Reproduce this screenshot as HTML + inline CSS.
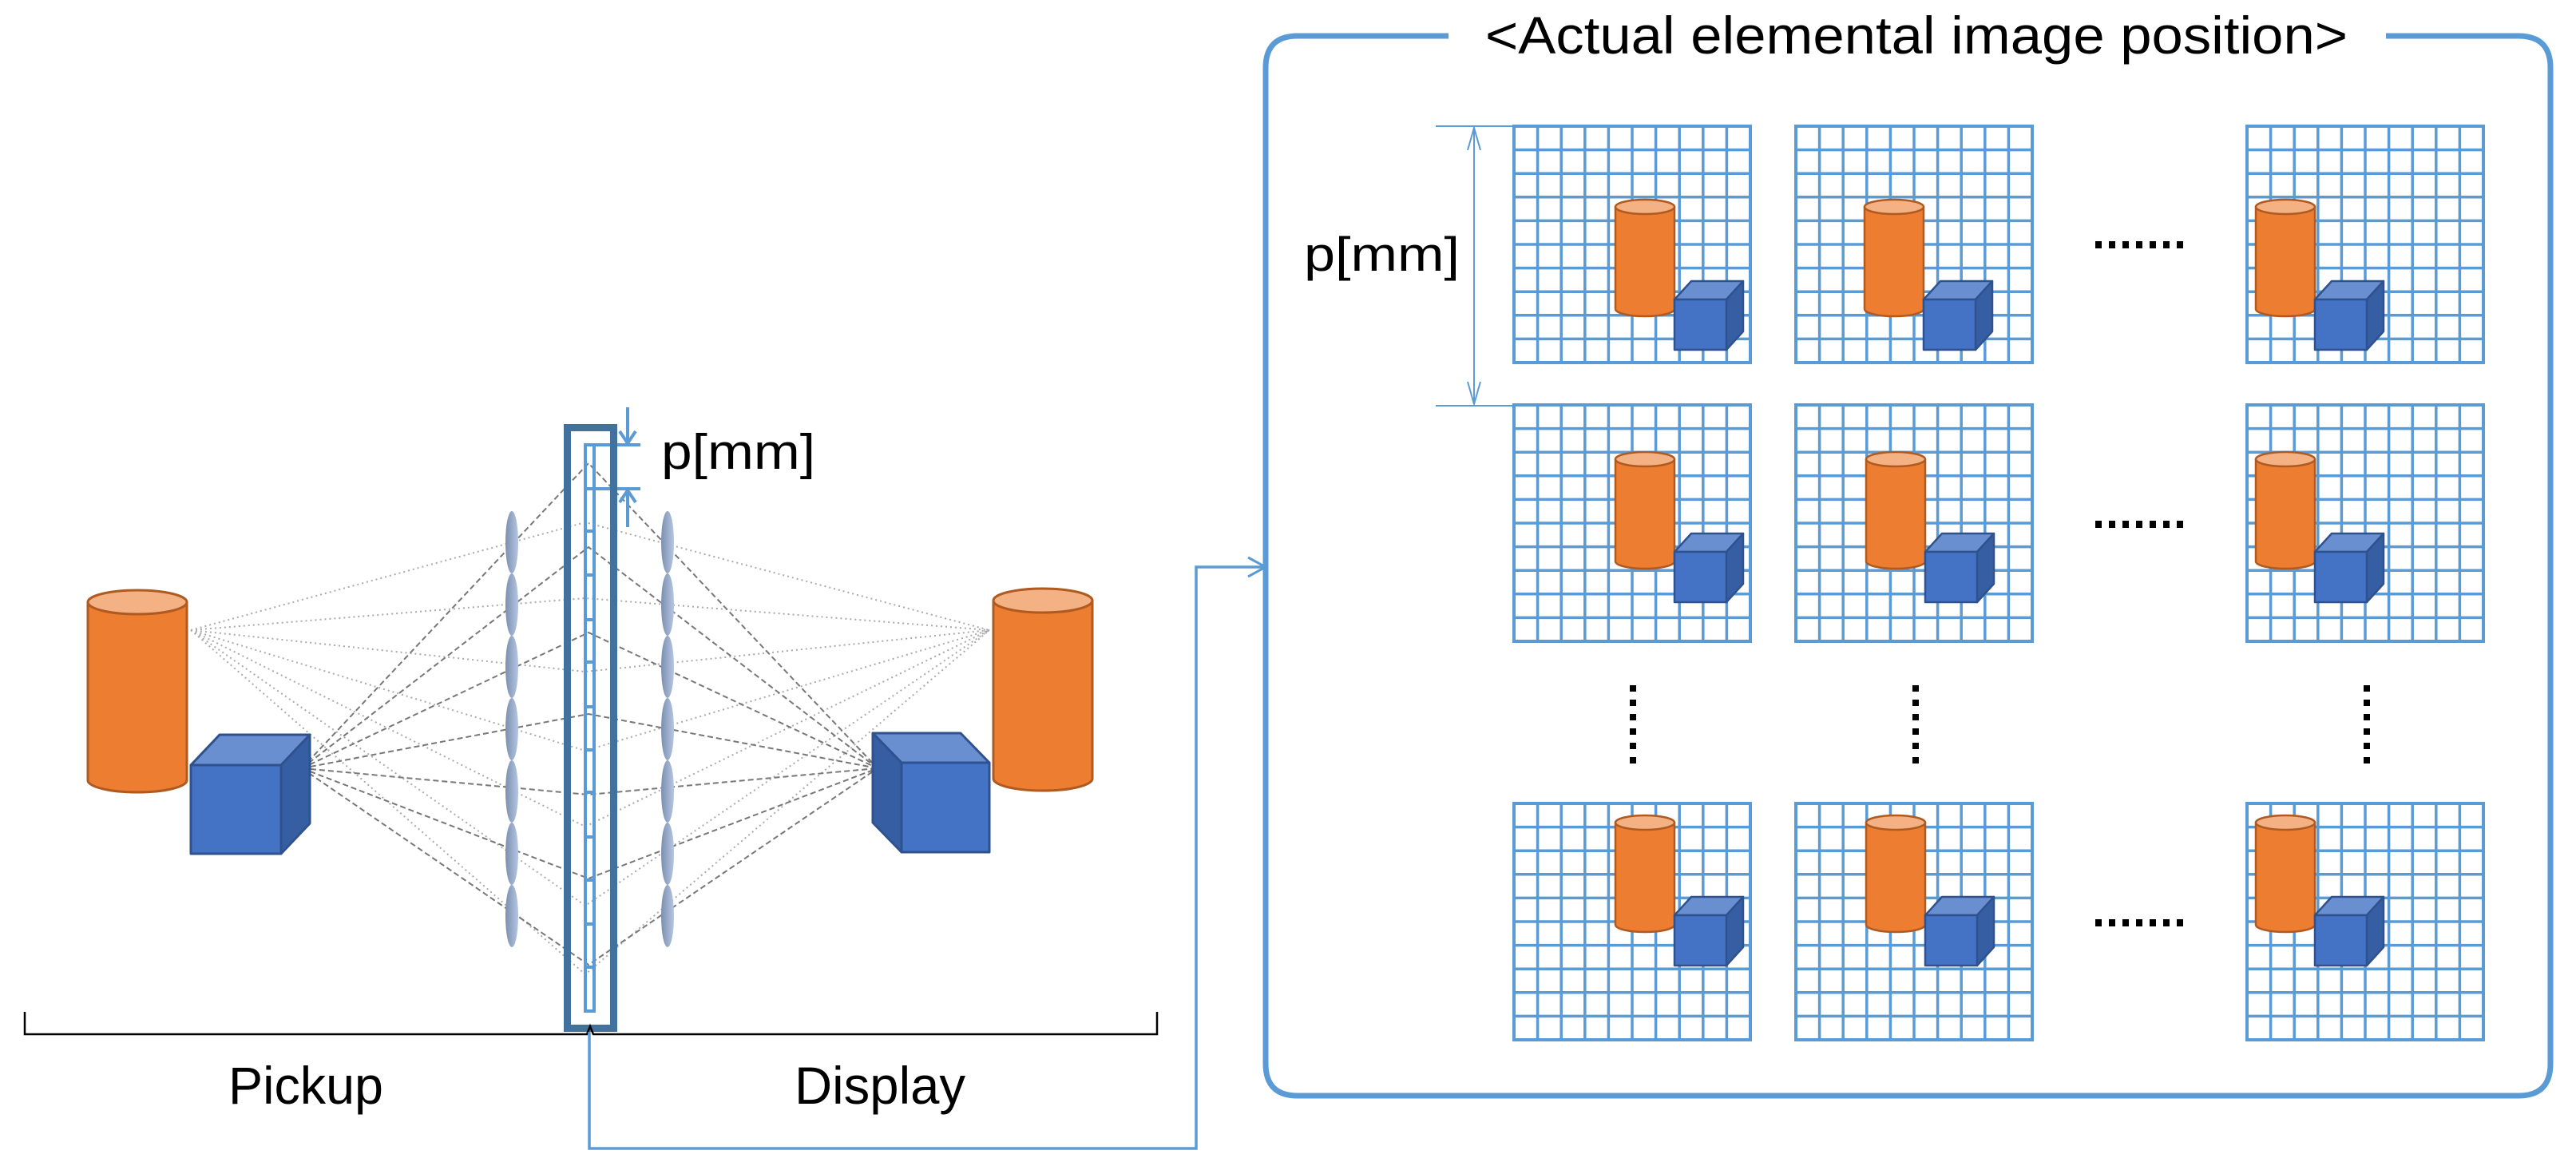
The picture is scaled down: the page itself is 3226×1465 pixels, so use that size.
<!DOCTYPE html>
<html><head><meta charset="utf-8"><style>html,body{margin:0;padding:0;background:#fff}svg{display:block}</style></head>
<body>
<svg width="3226" height="1465" viewBox="0 0 3226 1465" xmlns="http://www.w3.org/2000/svg">
<defs>
<linearGradient id="lens" x1="0" x2="1"><stop offset="0" stop-color="#7b8fae"/><stop offset="1" stop-color="#b5c6e3"/></linearGradient>
<g id="grid">
<rect x="0" y="0" width="296" height="296" fill="#fff" stroke="#5B9BD5" stroke-width="4"/>
<path d="M29.6 0V296M59.2 0V296M88.8 0V296M118.4 0V296M148 0V296M177.6 0V296M207.2 0V296M236.8 0V296M266.4 0V296M0 29.6H296M0 59.2H296M0 88.8H296M0 118.4H296M0 148H296M0 177.6H296M0 207.2H296M0 236.8H296M0 266.4H296" stroke="#5B9BD5" stroke-width="3.5" fill="none"/>
</g>
<g id="obj" stroke-width="2.5" stroke-linejoin="round">
<path d="M0 9V137A37 9 0 0 0 74 137V9Z" fill="#ED7D31" stroke="#AE5A21"/>
<ellipse cx="37" cy="9" rx="37" ry="9" fill="#F4B183" stroke="#AE5A21"/>
<polygon points="74,125 95,102 160,102 139,125" fill="#6A8FD0" stroke="#2F528F"/>
<polygon points="139,125 160,102 160,165 139,188" fill="#365EA2" stroke="#2F528F"/>
<rect x="74" y="125" width="65" height="63" fill="#4472C4" stroke="#2F528F"/>
</g>
</defs>

<!-- Right frame -->
<path d="M1814 45 H1625 Q1585 45 1585 85 V1332 Q1585 1372 1625 1372 H3154 Q3194 1372 3194 1332 V85 Q3194 45 3154 45 H2988" fill="none" stroke="#5B9BD5" stroke-width="7"/>
<text x="2400" y="67" font-family="Liberation Sans, sans-serif" font-size="66" text-anchor="middle" textLength="1080" lengthAdjust="spacingAndGlyphs">&lt;Actual elemental image position&gt;</text>

<!-- grids -->
<use href="#grid" x="1896" y="158"/><use href="#grid" x="2249" y="158"/><use href="#grid" x="2814" y="158"/>
<use href="#grid" x="1896" y="507"/><use href="#grid" x="2249" y="507"/><use href="#grid" x="2814" y="507"/>
<use href="#grid" x="1896" y="1006"/><use href="#grid" x="2249" y="1006"/><use href="#grid" x="2814" y="1006"/>
<use href="#obj" x="2023" y="250"/><use href="#obj" x="2335" y="250"/><use href="#obj" x="2825" y="250"/>
<use href="#obj" x="2023" y="566"/><use href="#obj" x="2337" y="566"/><use href="#obj" x="2825" y="566"/>
<use href="#obj" x="2023" y="1021"/><use href="#obj" x="2337" y="1021"/><use href="#obj" x="2825" y="1021"/>

<!-- dots -->
<g fill="#000">
<g id="hd"><rect x="2624" y="302" width="8" height="9"/><rect x="2641" y="302" width="8" height="9"/><rect x="2658" y="302" width="8" height="9"/><rect x="2675" y="302" width="8" height="9"/><rect x="2692" y="302" width="8" height="9"/><rect x="2709" y="302" width="8" height="9"/><rect x="2726" y="302" width="8" height="9"/></g>
<use href="#hd" y="350"/><use href="#hd" y="849"/>
<g id="vd"><rect x="2041" y="858" width="8" height="8"/><rect x="2041" y="876" width="8" height="8"/><rect x="2041" y="894" width="8" height="8"/><rect x="2041" y="912" width="8" height="8"/><rect x="2041" y="930" width="8" height="8"/><rect x="2041" y="948" width="8" height="8"/></g>
<use href="#vd" x="354"/><use href="#vd" x="919"/>
</g>

<!-- right p dimension -->
<g stroke="#5B9BD5" stroke-width="2" fill="none">
<path d="M1798 158H1896M1798 508H1896M1846 160V506M1838 188L1846 160L1854 188M1838 478L1846 506L1854 478"/>
</g>
<text x="1633" y="339" font-family="Liberation Sans, sans-serif" font-size="60" textLength="195" lengthAdjust="spacingAndGlyphs">p[mm]</text>

<!-- rays -->
<g fill="none" stroke-width="2">
<g stroke="#aaa" stroke-dasharray="2 4">
<path d="M239 789L733 654L1239 789M239 789L733 749L1239 789M239 789L733 841L1239 789M239 789L733 940L1239 789M239 789L733 1035L1239 789M239 789L733 1134L1239 789M239 789L733 1220L1239 789"/>
</g>
<g stroke="#777" stroke-dasharray="7 4">
<path d="M378 962L737 580L1099 962M378 962L737 685L1099 962M378 962L737 792L1099 962M378 962L737 894L1099 962M378 962L737 995L1099 962M378 962L737 1100L1099 962M378 962L737 1208L1099 962"/>
</g>
</g>

<!-- lenses -->
<g fill="url(#lens)">
<ellipse cx="641" cy="679" rx="8" ry="39"/><ellipse cx="641" cy="757" rx="8" ry="39"/><ellipse cx="641" cy="835" rx="8" ry="39"/><ellipse cx="641" cy="913" rx="8" ry="39"/><ellipse cx="641" cy="991" rx="8" ry="39"/><ellipse cx="641" cy="1069" rx="8" ry="39"/><ellipse cx="641" cy="1147" rx="8" ry="39"/>
<ellipse cx="836" cy="679" rx="8" ry="39"/><ellipse cx="836" cy="757" rx="8" ry="39"/><ellipse cx="836" cy="835" rx="8" ry="39"/><ellipse cx="836" cy="913" rx="8" ry="39"/><ellipse cx="836" cy="991" rx="8" ry="39"/><ellipse cx="836" cy="1069" rx="8" ry="39"/><ellipse cx="836" cy="1147" rx="8" ry="39"/>
</g>

<!-- central strip -->
<g fill="none" stroke="#5B9BD5" stroke-width="4">
<rect x="733" y="557" width="11" height="709"/>
<path d="M733 557H802M733 612H802M733 665H744M733 720H744M733 776H744M733 829H744M733 885H744M733 939H744M733 992H744M733 1048H744M733 1102H744M733 1157H744M733 1211H744"/>
<path d="M786 510V555M776 540L786 555L796 540M786 660V614M776 629L786 614L796 629"/>
</g>
<rect x="710.5" y="535.5" width="58" height="752" fill="none" stroke="#41719C" stroke-width="9"/>
<text x="828" y="587" font-family="Liberation Sans, sans-serif" font-size="62" textLength="193" lengthAdjust="spacingAndGlyphs">p[mm]</text>

<!-- left objects -->
<g stroke-width="3" stroke-linejoin="round">
<path d="M110 754V977A62 15 0 0 0 234 977V754Z" fill="#ED7D31" stroke="#AE5A21"/>
<ellipse cx="172" cy="754" rx="62" ry="15" fill="#F4B183" stroke="#AE5A21"/>
<polygon points="239,958 275,920 388,920 352,958" fill="#6A8FD0" stroke="#2F528F"/>
<polygon points="352,958 388,920 388,1031 352,1069" fill="#365EA2" stroke="#2F528F"/>
<rect x="239" y="958" width="113" height="111" fill="#4472C4" stroke="#2F528F"/>

<path d="M1244 752V975A62 15 0 0 0 1368 975V752Z" fill="#ED7D31" stroke="#AE5A21"/>
<ellipse cx="1306" cy="752" rx="62" ry="15" fill="#F4B183" stroke="#AE5A21"/>
<polygon points="1129,955 1093,918 1203,918 1239,955" fill="#6A8FD0" stroke="#2F528F"/>
<polygon points="1129,955 1093,918 1093,1030 1129,1067" fill="#365EA2" stroke="#2F528F"/>
<rect x="1129" y="955" width="110" height="112" fill="#4472C4" stroke="#2F528F"/>
</g>

<!-- brace -->
<path d="M31 1267V1295H735L739 1285L743 1295H1449V1267" fill="none" stroke="#000" stroke-width="2.5"/>
<text x="383" y="1382" font-family="Liberation Sans, sans-serif" font-size="66" text-anchor="middle" textLength="194" lengthAdjust="spacingAndGlyphs">Pickup</text>
<text x="1102" y="1382" font-family="Liberation Sans, sans-serif" font-size="66" text-anchor="middle" textLength="214" lengthAdjust="spacingAndGlyphs">Display</text>

<!-- connector -->
<path d="M738 1292V1438H1498V710H1583" fill="none" stroke="#5B9BD5" stroke-width="3.5"/>
<path d="M1563 698L1585 710L1563 722" fill="none" stroke="#5B9BD5" stroke-width="3"/>
</svg>
</body></html>
